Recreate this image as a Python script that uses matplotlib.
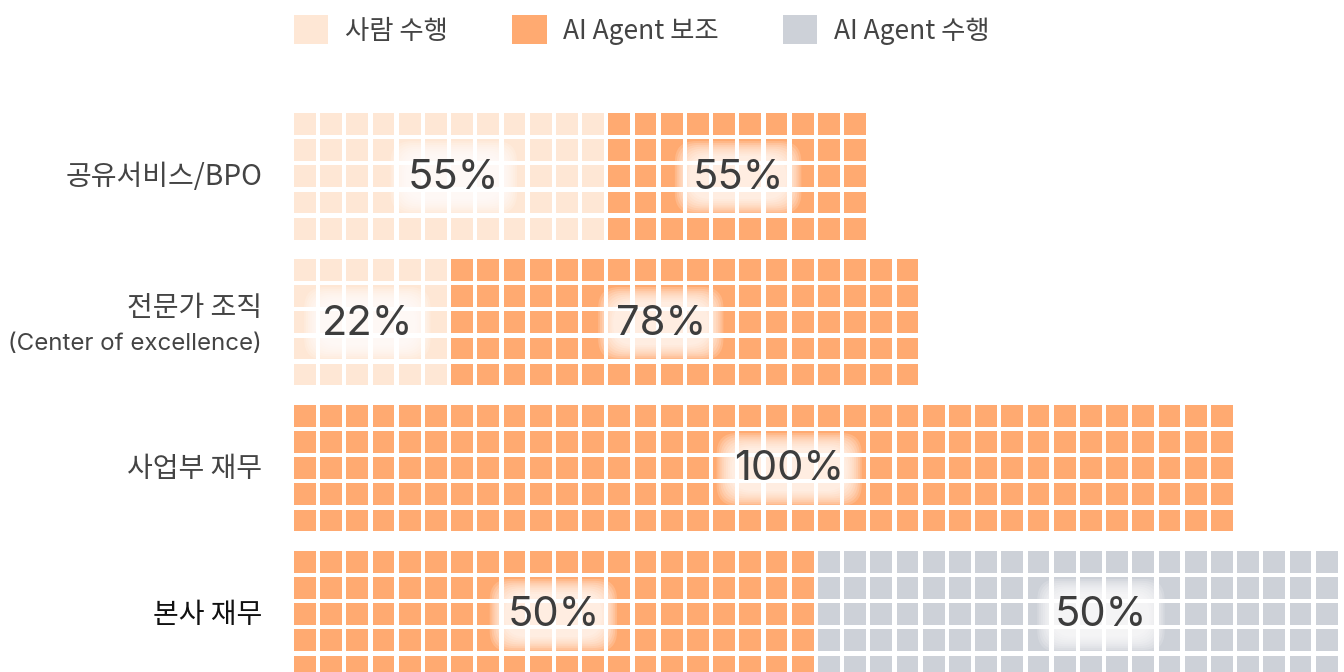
import matplotlib
matplotlib.use("Agg")
import matplotlib.pyplot as plt
from matplotlib.patches import Rectangle, Patch

plt.rcParams['font.family'] = ['Noto Sans CJK KR', 'DejaVu Sans']

# data: number of waffle columns (5 cells high) per series for each category
categories = ['공유서비스/BPO', '전문가 조직\n(Center of excellence)', '사업부 재무', '본사 재무']
series_names = ['사람 수행', 'AI Agent 보조', 'AI Agent 수행']
cols_human = [12, 6, 0, 0]
cols_assist = [10, 18, 36, 20]
cols_agent = [0, 0, 0, 20]
pct_labels = [['55%', '55%', None],
              ['22%', '78%', None],
              [None, '100%', None],
              [None, '50%', '50%']]

# layout / style
colors = ['#FEE7D5', '#FFAA71', '#CDD1D8']
label_colors = ['#444444', '#444444', '#444444', '#111111']
label_x = [[6.1, 16.95, None], [2.8, 14.0, None], [None, 18.9, None], [None, 9.9, 30.8]]
n_rows = 5
cell = 0.83
group_gap = 5.57
pitch_px = 26.2
left_px, top_px = 294, 113
W, H = 1344, 672
latin = ['Inter', 'Noto Sans CJK KR', 'DejaVu Sans']


def glow_text(ax, x, y, s):
    """Percentage label with a soft white halo behind it."""
    n = 9
    for i in range(n):
        pad = 0.42 - i * 0.045
        ax.text(x, y, s, fontsize=30, color='none', ha='center', va='center',
                family=latin,
                bbox=dict(boxstyle=f'round,pad={pad:.3f},rounding_size=0.5',
                          facecolor='white', edgecolor='none', alpha=0.17))
    ax.text(x, y, s, fontsize=30, color='#3d3d3d', ha='center', va='center',
            family=latin)


fig = plt.figure(figsize=(W / 100, H / 100), dpi=100)
ax = fig.add_axes([0, 0, 1, 1])
ax.set_xlim(-left_px / pitch_px, (W - left_px) / pitch_px)
ax.set_ylim((H - top_px) / pitch_px, -top_px / pitch_px)
ax.axis('off')

for g, cat in enumerate(categories):
    counts = [cols_human[g], cols_assist[g], cols_agent[g]]
    y0 = g * group_gap
    col = 0
    for s, n in enumerate(counts):
        for c in range(col, col + n):
            for r in range(n_rows):
                ax.add_patch(Rectangle((c, y0 + r), cell, cell, facecolor=colors[s],
                                       edgecolor='none'))
        col += n
    yc = y0 + (n_rows - 1 + cell) / 2
    for s in range(3):
        if pct_labels[g][s]:
            glow_text(ax, label_x[g][s], yc + 0.05, pct_labels[g][s])
    lines = cat.split('\n')
    if len(lines) == 1:
        ax.text(-1.22, yc + 0.02, cat, ha='right', va='center', fontsize=20.2,
                color=label_colors[g])
    else:
        # Korean title line and smaller latin subtitle line
        ax.text(-1.22, yc - 0.53, lines[0], ha='right', va='center', fontsize=20.2,
                color=label_colors[g])
        ax.text(-1.22, yc + 0.83, lines[1], ha='right', va='center', fontsize=17.3,
                color=label_colors[g], family=latin)

handles = [Patch(facecolor=c, edgecolor='none') for c in colors]
fig.legend(handles, series_names, loc='center left',
           bbox_to_anchor=(left_px / W, 1 - 30 / H), ncol=3, frameon=False,
           fontsize=19, labelcolor='#444444', handlelength=1.3, handleheight=1.3,
           handletextpad=0.62, columnspacing=2.45, borderpad=0, borderaxespad=0)

fig.savefig('out.png', dpi=100)
